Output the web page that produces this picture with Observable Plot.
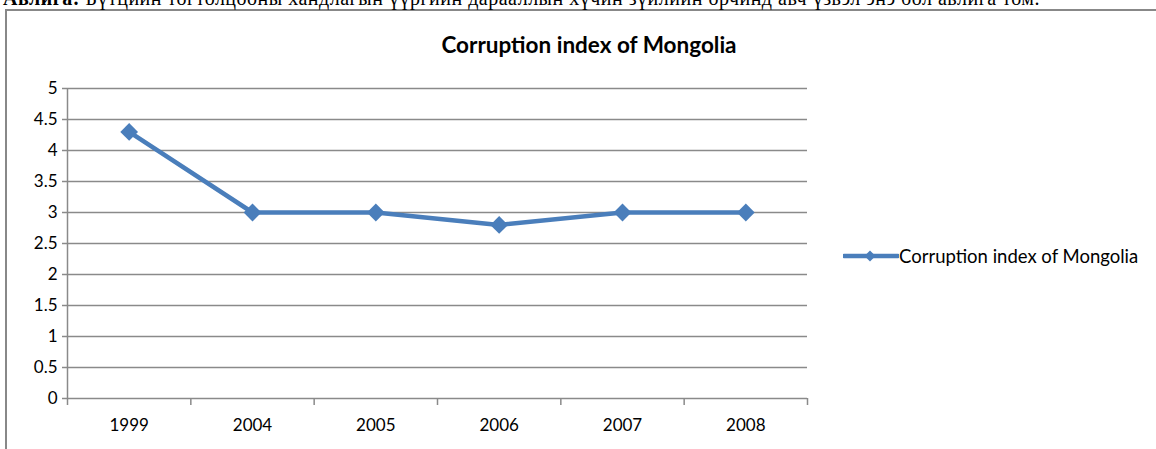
<!DOCTYPE html>
<html>
<head>
<meta charset="utf-8">
<script src="https://cdn.jsdelivr.net/npm/d3@7"></script>
<script src="https://cdn.jsdelivr.net/npm/@observablehq/plot@0.6"></script>
<style>
  html, body { margin: 0; padding: 0; background: #fff; overflow: hidden; }
  body { width: 1156px; height: 449px; position: relative; font-family: Lato, "Open Sans", sans-serif; }
  #doctext { position: absolute; left: 3px; top: -12px; font-family: "Liberation Serif", serif; font-size: 20px; line-height: 20px; white-space: nowrap; color: #000; }
  #frame { position: absolute; left: 5px; top: 9px; width: 1200px; height: 500px; border: 2px solid #888; box-sizing: border-box; background: #fff; }
  #chart { position: absolute; left: 0; top: 0; }
  #title { position: absolute; left: 339px; width: 500px; top: 31px; text-align: center; font-weight: bold; font-size: 22.5px; color: #000; }
  #legend { position: absolute; left: 843px; top: 245px; display: flex; align-items: center; font-size: 18.5px; color: #000; }
</style>
</head>
<body>
<div id="frame"></div>
<div id="doctext"><b>Авлига:</b> Бүтцийн тогтолцооны хандлагын үүргийн дарааллын хүчин зүйлийн орчинд авч үзвэл энэ бол авлига том.</div>
<div id="chart"></div>
<div id="title">Corruption index of Mongolia</div>
<div id="legend">
  <svg width="56" height="16" style="display:block"><line x1="1" y1="8" x2="55" y2="8" stroke="#4a7ebb" stroke-width="4.5" stroke-linecap="round"/><path d="M27,2.5 L32.5,8 L27,13.5 L21.5,8 Z" fill="#4a7ebb"/></svg>
  <span id="legendText"></span>
</div>
<script>
const seriesName = "Corruption index of Mongolia";
const years = ["1999", "2004", "2005", "2006", "2007", "2008"];
const values = [4.3, 3.0, 3.0, 2.8, 3.0, 3.0];
const yTicks = [0, 0.5, 1, 1.5, 2, 2.5, 3, 3.5, 4, 4.5, 5];

document.getElementById("legendText").textContent = seriesName;

// fit the clipped document line to the reference's width
const doc = document.getElementById("doctext");
const w = doc.getBoundingClientRect().width;
const chars = doc.textContent.length;
doc.style.letterSpacing = ((1037 - w) / chars) + "px";

const data = years.map((year, i) => ({ year, xi: i + 0.5, value: values[i] }));
const boundaries = d3.range(years.length + 1);
const centers = years.map((_, i) => i + 0.5);
const gridColor = "#8a8a8a";
const lineColor = "#4a7ebb";

const chart = Plot.plot({
  width: 1156,
  height: 449,
  marginLeft: 67,
  marginRight: 349,
  marginTop: 88,
  marginBottom: 51,
  style: { background: "transparent", fontFamily: "Lato, 'Open Sans', sans-serif", fontSize: "17px", color: "#000", overflow: "visible" },
  x: { domain: [0, years.length], axis: null },
  y: { domain: [0, 5], axis: null },
  marks: [
    Plot.ruleY(yTicks, { stroke: gridColor, strokeWidth: 1.5 }),
    Plot.ruleX([0], { stroke: gridColor, strokeWidth: 1.5 }),
    Plot.axisY({ ticks: yTicks, label: null, tickSize: 5, tickPadding: 5, stroke: gridColor, strokeWidth: 1.5, fill: "#000", tickFormat: d => String(d), fontSize: 17 }),
    Plot.axisX({ ticks: boundaries, label: null, tickSize: 7, stroke: gridColor, strokeWidth: 1.5, tickFormat: () => "" }),
    Plot.axisX({ ticks: centers, label: null, tickSize: 0, tickPadding: 20, fill: "#000", tickFormat: d => years[Math.floor(d)], fontSize: 17 }),
    Plot.line(data, { x: "xi", y: "value", stroke: lineColor, strokeWidth: 4.5 }),
    Plot.dot(data, { x: "xi", y: "value", symbol: "diamond2", r: 8, fill: lineColor, stroke: "none" })
  ]
});
document.getElementById("chart").appendChild(chart);
</script>
</body>
</html>
